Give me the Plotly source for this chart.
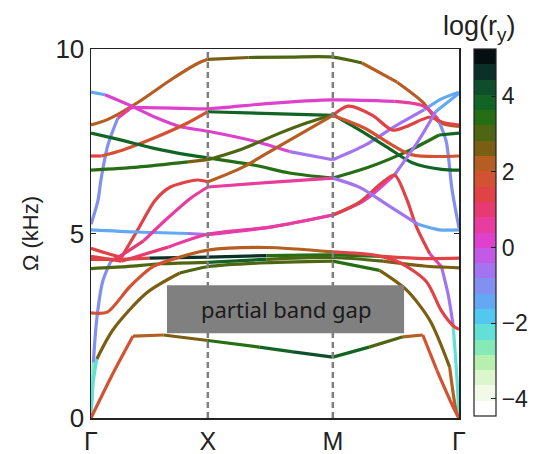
import plotly.graph_objects as go

# ---------------- data ----------------
K_TICKS = [0.0, 1.0, 2.07, 3.15]
K_LABELS = ["Γ", "X", "M", "Γ"]
Y_TICKS = [0, 5, 10]
CB_TICKS = [-4, -2, 0, 2, 4]
CB_LABELS = ["−4", "−2", "0", "2", "4"]
C_MIN, C_MAX = -4.45, 5.25
GAP_K = [0.65, 2.68]
GAP_F = [2.30, 3.60]

# colormap (bottom -> top)
CB_COLORS = ["#ffffff", "#f2f9e8", "#dcf5cc", "#b6efae", "#86e9b8", "#62e0d6",
             "#52c8f0", "#62a8f2", "#8290f0", "#a274f0", "#c25ae6", "#de42cc",
             "#e83c9e", "#e83a72", "#e04246", "#d25232", "#b45e22", "#7a5e12",
             "#4e6612", "#266e14", "#126424", "#0e4e2c", "#0a3028", "#050f0f"]

# each band: (k, frequency in kHz, log(r_y) of the segment that starts here)
A1 = [(0.00, 0.00, 1.8), (0.19, 1.22, 1.8), (0.36, 2.22, 2.4), (0.62, 2.25, 2.8),
      (1.00, 2.10, 3.3), (1.44, 1.92, 3.8), (1.73, 1.79, 4.3), (2.07, 1.65, 3.8),
      (2.38, 1.92, 3.0), (2.67, 2.20, 2.4), (2.84, 2.25, 1.9), (2.96, 1.30, 1.8),
      (3.10, 0.30, 1.8), (3.15, 0.00, 1.8)]
A2 = [(0.00, 0.00, -2.4), (0.02, 1.00, -2.4), (0.05, 1.60, 2.8), (0.19, 2.40, 2.8),
      (0.48, 3.40, 2.8), (0.76, 3.93, 3.2), (1.00, 4.10, 3.2), (1.44, 4.20, 3.2),
      (2.07, 4.25, 3.4), (2.47, 4.00, 2.6), (2.70, 3.47, 2.6), (2.90, 2.65, 2.6),
      (3.07, 1.38, 2.4), (3.13, 0.13, 2.4), (3.15, 0.00, 2.4)]
A3 = [(0.00, 2.85, 1.9), (0.14, 2.87, 1.9), (0.33, 3.55, 1.9), (0.53, 4.10, 1.9),
      (0.76, 4.36, 2.3), (1.00, 4.55, 2.3), (1.50, 4.62, 2.3), (2.07, 4.50, 1.6),
      (2.45, 4.40, 1.6), (2.65, 4.20, 1.6), (2.87, 3.70, 1.6), (3.00, 2.90, 1.6),
      (3.10, 2.50, 1.6), (3.15, 2.40, 1.6)]
B4 = [(0.00, 4.30, 1.3), (0.26, 4.30, 1.3), (0.50, 4.33, 4.6), (1.00, 4.36, 4.6),
      (1.50, 4.40, 3.3), (2.07, 4.42, 3.3), (2.50, 4.38, 1.5), (2.85, 4.32, 1.5),
      (3.15, 4.33, 1.5)]
B5 = [(0.00, 4.05, 3.0), (0.30, 4.10, 3.0), (0.60, 4.18, 3.0), (1.00, 4.22, 3.8),
      (1.50, 4.30, 3.0), (2.07, 4.35, 3.0), (2.50, 4.25, 2.6), (2.85, 4.12, 2.6),
      (3.15, 4.07, 2.6)]
PK3 = [(0.00, 0.00, -2.6), (0.02, 1.50, -1.0), (0.05, 2.70, -1.0), (0.10, 3.70, -1.0),
       (0.17, 4.25, 1.1), (0.28, 4.45, 1.1), (0.45, 4.80, 0.5), (0.65, 5.40, 0.5),
       (0.85, 5.95, 0.5), (1.00, 6.26, 0.4), (1.50, 6.38, 0.4), (2.07, 6.50, -0.7),
       (2.30, 6.25, -0.7), (2.55, 5.75, -0.7), (2.80, 5.25, -1.4), (2.98, 5.10, -1.4),
       (3.15, 5.10, -1.4)]
PK4 = [(0.00, 4.38, 1.3), (0.26, 4.25, 1.1), (0.66, 4.63, 0.4), (1.00, 4.98, 0.4),
       (1.55, 5.18, 0.4), (2.07, 5.50, 1.4), (2.30, 5.85, 1.4), (2.50, 6.40, 1.4),
       (2.60, 6.58, 1.4), (2.70, 5.95, 1.4), (2.79, 5.15, 1.4), (2.90, 4.45, 0.2),
       (3.00, 4.10, -0.8), (3.06, 3.30, -0.8), (3.10, 2.50, -2.4), (3.13, 1.20, -2.4),
       (3.15, 0.00, -2.4)]
LBFLAT = [(0.00, 5.10, -1.6), (0.40, 5.04, -1.6), (0.83, 5.00, -0.6), (1.00, 4.97, 0.3),
          (1.55, 5.18, 0.3), (2.07, 5.50, 0.0), (2.34, 5.90, 0.0), (2.60, 6.60, -0.7),
          (2.80, 7.50, -0.7), (2.95, 8.30, -1.3), (3.15, 8.80, -1.3)]
LB = [(0.00, 8.83, -1.5), (0.12, 8.76, 0.3), (0.35, 8.45, 0.3), (0.55, 8.15, 0.3),
      (0.76, 7.90, 0.3), (1.00, 7.77, 0.3), (1.40, 7.50, 0.3), (1.70, 7.22, -0.6),
      (2.07, 7.00, -0.8), (2.35, 7.40, -0.8), (2.60, 7.90, -0.8), (2.85, 8.35, -1.5),
      (3.00, 8.65, -1.5), (3.15, 8.83, -1.5)]
PK2 = [(0.00, 5.25, -1.0), (0.06, 5.90, -1.0), (0.085, 6.45, -1.0), (0.145, 7.40, -1.0),
       (0.23, 8.13, 0.8), (0.35, 8.42, 0.3), (0.70, 8.40, 0.3), (1.00, 8.38, 0.3),
       (1.50, 8.52, 0.3), (2.07, 8.62, 0.3), (2.60, 8.58, 0.6), (2.85, 8.45, 0.6),
       (2.97, 8.10, -0.9), (3.04, 7.50, -0.9), (3.09, 6.20, -0.9), (3.15, 5.15, -0.9)]
TOP = [(0.00, 7.94, 2.1), (0.15, 8.10, 2.1), (0.40, 8.55, 2.1), (0.70, 9.20, 2.1),
       (0.92, 9.62, 2.1), (1.00, 9.72, 2.5), (1.35, 9.77, 3.1), (1.70, 9.78, 3.1),
       (2.07, 9.78, 3.1), (2.32, 9.62, 2.4), (2.62, 9.10, 2.1), (2.84, 8.56, 2.1),
       (2.98, 8.02, 2.1), (3.15, 7.90, 2.1)]
BR1 = [(0.00, 7.10, 1.5), (0.09, 7.10, 1.9), (0.26, 7.25, 1.9), (0.55, 7.60, 1.9),
       (0.83, 8.00, 1.9), (1.00, 8.30, 3.8), (1.55, 8.25, 3.8), (2.07, 8.20, 1.5),
       (2.20, 8.45, 1.5), (2.41, 8.20, 1.5), (2.58, 7.80, 1.5), (2.70, 7.90, 1.5),
       (2.90, 8.15, 1.5), (3.02, 8.00, 1.5), (3.15, 7.94, 1.5)]
G1 = [(0.00, 7.72, 3.8), (0.26, 7.53, 3.8), (0.55, 7.30, 3.8), (0.83, 7.13, 3.8),
      (1.00, 7.05, 3.6), (1.40, 6.85, 3.6), (1.70, 6.64, 3.6), (2.07, 6.50, 3.4),
      (2.38, 6.80, 3.4), (2.73, 7.26, 3.4), (2.98, 7.67, 3.8), (3.15, 7.72, 3.8)]
G2 = [(0.00, 6.72, 3.3), (0.40, 6.80, 3.3), (0.83, 6.94, 2.6), (1.00, 7.00, 3.0),
      (1.30, 7.30, 3.0), (1.60, 7.70, 3.0), (1.85, 8.00, 3.0), (2.07, 8.22, 3.8),
      (2.30, 7.80, 3.8), (2.53, 7.35, 3.8), (2.75, 6.92, 3.8), (3.00, 6.74, 3.8),
      (3.15, 6.72, 3.8)]
BR2 = [(0.00, 4.60, 1.4), (0.15, 4.45, 1.4), (0.26, 4.35, 1.5), (0.40, 5.10, 1.5),
       (0.55, 5.90, 1.5), (0.68, 6.26, 1.5), (0.91, 6.45, 1.5), (1.00, 6.40, 2.3),
       (1.30, 6.80, 2.3), (1.60, 7.35, 2.3), (1.85, 7.80, 2.3), (2.07, 8.20, 2.0),
       (2.34, 7.86, 2.0), (2.55, 7.45, 2.0), (2.75, 7.13, 2.0), (3.15, 7.10, 2.0)]

BANDS = [TOP, LB, PK2, BR1, G1, G2, BR2, LBFLAT, PK4, PK3, B5, B4, A3, A2, A1]

# ---------------- figure ----------------
n_c = len(CB_COLORS)
scale = []
for i, c in enumerate(CB_COLORS):
    scale.append([i / n_c, c])
    scale.append([(i + 1) / n_c, c])


def color_of(v):
    t = (v - C_MIN) / (C_MAX - C_MIN)
    idx = int(t * n_c)
    idx = max(0, min(n_c - 1, idx))
    return CB_COLORS[idx]


fig = go.Figure()


def add_band(pts):
    n = len(pts)
    i = 0
    while i < n - 1:
        j = i
        while j + 1 < n - 1 and pts[j + 1][2] == pts[i][2]:
            j += 1
        seg = pts[i:j + 2]
        fig.add_trace(go.Scatter(
            x=[p[0] for p in seg], y=[p[1] for p in seg], mode="lines",
            line=dict(color=color_of(pts[i][2]), width=3.2, shape="spline", smoothing=0.8),
            hoverinfo="skip", showlegend=False))
        i = j + 1


for b in BANDS:
    add_band(b)

# colorbar carrier
fig.add_trace(go.Scatter(
    x=[0], y=[-5], mode="markers", showlegend=False, hoverinfo="skip",
    marker=dict(color=[0], colorscale=scale, cmin=C_MIN, cmax=C_MAX, size=1,
                showscale=True,
                colorbar=dict(x=1.041, xanchor="left", y=0.503, yanchor="middle",
                              len=0.995, lenmode="fraction", thickness=22,
                              thicknessmode="pixels", outlinewidth=1.2,
                              outlinecolor="#222", xpad=0, ypad=0, borderwidth=0,
                              tickvals=CB_TICKS, ticktext=CB_LABELS, ticks="inside",
                              ticklen=5, tickcolor="#222",
                              tickfont=dict(size=23, color="#222",
                                            family="Liberation Sans")))))

for kx in K_TICKS[1:3]:
    fig.add_shape(type="line", x0=kx, x1=kx, y0=0, y1=1, xref="x", yref="paper",
                  line=dict(color="#7f7f7f", width=2.5, dash="6px,4px"), layer="above")

fig.add_shape(type="rect", x0=GAP_K[0], x1=GAP_K[1], y0=GAP_F[0], y1=GAP_F[1],
              xref="x", yref="y", fillcolor="#808080", line=dict(width=0), layer="above")
fig.add_annotation(x=(GAP_K[0] + GAP_K[1]) / 2, y=(GAP_F[0] + GAP_F[1]) / 2,
                   xref="x", yref="y", text="partial band gap", showarrow=False,
                   font=dict(size=22, color="#1a1a1a", family="Noto Sans"))

fig.add_annotation(x=1.055, y=1.058, xref="paper", yref="paper", xanchor="center",
                   yanchor="middle", text="log(r<sub>y</sub>)", showarrow=False,
                   font=dict(size=27, color="#222", family="Liberation Sans"))

fig.update_xaxes(range=[K_TICKS[0], K_TICKS[-1]], tickvals=K_TICKS, ticktext=K_LABELS,
                 showgrid=False, zeroline=False, showline=True, linecolor="#222",
                 linewidth=1.5, mirror=True, ticks="", automargin=False,
                 tickfont=dict(size=25, color="#222", family="Liberation Sans"))
fig.update_yaxes(range=[0, 10], tickvals=Y_TICKS, showgrid=False, zeroline=False,
                 showline=True, linecolor="#222", linewidth=1.5, mirror="allticks",
                 ticks="inside", ticklen=5, tickcolor="#222", automargin=False,
                 tickfont=dict(size=26, color="#222", family="Liberation Sans"),
                 title=dict(text="Ω (kHz)", standoff=10,
                            font=dict(size=22, color="#222", family="Liberation Sans")))

fig.update_layout(width=541, height=454,
                  margin=dict(l=91, r=82, t=49, b=36, autoexpand=False),
                  paper_bgcolor="white", plot_bgcolor="white", showlegend=False)

# remove the browser's default body margin so the figure fills the window
fig.write_html("out.html",
               config={"displayModeBar": False, "staticPlot": True},
               post_script="document.body.style.margin='0px';"
                           "document.body.style.overflow='hidden';")
